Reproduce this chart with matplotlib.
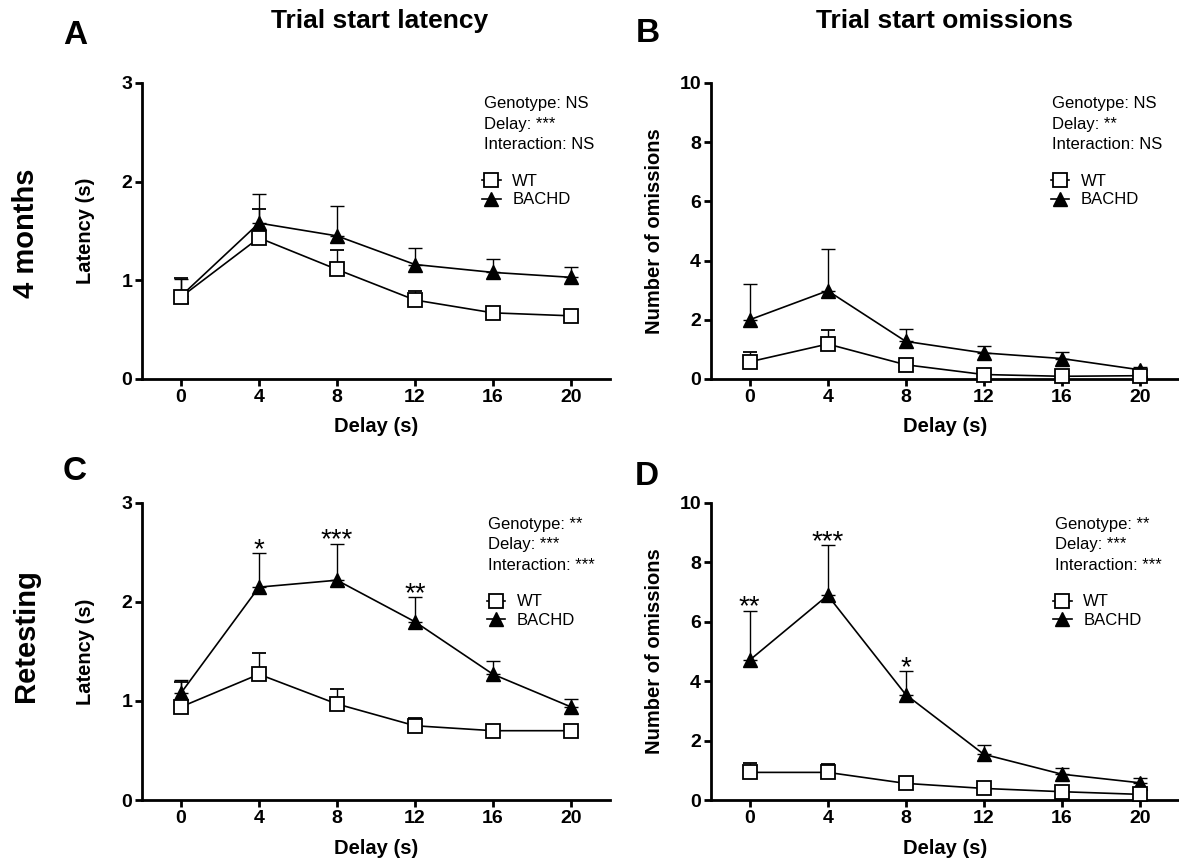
import matplotlib
matplotlib.use("Agg")
import matplotlib.pyplot as plt
from matplotlib.lines import Line2D
import numpy as np

plt.rcParams['font.family'] = ['Liberation Sans', 'DejaVu Sans']

# ---------------- data ----------------
delay = [0, 4, 8, 12, 16, 20]

# 4 months: trial start latency (s), mean and SEM
wt_lat_4m = [0.83, 1.43, 1.11, 0.80, 0.67, 0.64]
wt_lat_4m_sem = [0.19, 0.29, 0.20, 0.09, 0.03, 0.03]
bachd_lat_4m = [0.84, 1.58, 1.45, 1.16, 1.08, 1.03]
bachd_lat_4m_sem = [0.17, 0.29, 0.30, 0.17, 0.14, 0.10]

# 4 months: trial start omissions
wt_om_4m = [0.58, 1.18, 0.48, 0.15, 0.09, 0.11]
wt_om_4m_sem = [0.32, 0.48, 0.15, 0.08, 0.05, 0.05]
bachd_om_4m = [2.00, 2.98, 1.27, 0.88, 0.69, 0.31]
bachd_om_4m_sem = [1.21, 1.42, 0.42, 0.24, 0.21, 0.08]

# Retesting: trial start latency (s)
wt_lat_rt = [0.94, 1.27, 0.97, 0.75, 0.70, 0.70]
wt_lat_rt_sem = [0.25, 0.215, 0.15, 0.08, 0.03, 0.03]
bachd_lat_rt = [1.08, 2.15, 2.22, 1.80, 1.27, 0.94]
bachd_lat_rt_sem = [0.13, 0.34, 0.37, 0.25, 0.13, 0.08]

# Retesting: trial start omissions
wt_om_rt = [0.93, 0.93, 0.56, 0.39, 0.28, 0.19]
wt_om_rt_sem = [0.33, 0.29, 0.10, 0.08, 0.06, 0.05]
bachd_om_rt = [4.71, 6.89, 3.55, 1.54, 0.87, 0.58]
bachd_om_rt_sem = [1.67, 1.70, 0.79, 0.31, 0.21, 0.15]

# post-hoc significance marks (delay -> stars)
stars_lat_rt = {4: '*', 8: '***', 12: '**'}
stars_om_rt = {0: '**', 4: '***', 8: '*'}

stats_lat_4m = ['Genotype: NS', 'Delay: ***', 'Interaction: NS']
stats_om_4m = ['Genotype: NS', 'Delay: **', 'Interaction: NS']
stats_lat_rt = ['Genotype: **', 'Delay: ***', 'Interaction: ***']
stats_om_rt = ['Genotype: **', 'Delay: ***', 'Interaction: ***']

col_titles = ['Trial start latency', 'Trial start omissions']
row_titles = ['4 months', 'Retesting']
panel_letters = ['A', 'B', 'C', 'D']
group_labels = ['WT', 'BACHD']

# ---------------- figure ----------------
W, H = 1179, 866
fig = plt.figure(figsize=(W / 100, H / 100), dpi=100)


def fx(px):
    return px / W


def fy(py):
    return 1 - py / H


AX_W = 0.397
ax_a = fig.add_axes([0.1204, 0.5624, AX_W, 0.3418])
ax_b = fig.add_axes([0.6028, 0.5624, AX_W, 0.3418])
ax_c = fig.add_axes([0.1204, 0.0762, AX_W, 0.3430])
ax_d = fig.add_axes([0.6028, 0.0762, AX_W, 0.3430])


def draw_panel(ax, wt, wt_sem, bd, bd_sem, ymax, yticks, ylabel, stats,
               stars=None, text_x=0.73):
    x = np.array(delay)
    wt = np.array(wt)
    bd = np.array(bd)
    # BACHD: filled triangles, upward error bars only
    ax.errorbar(x, bd, yerr=[np.zeros_like(bd), np.array(bd_sem)],
                color='black', lw=1.2, elinewidth=1.0, capsize=5, capthick=1.0,
                marker='^', ms=10.5, mfc='black', mec='black', zorder=3,
                clip_on=False)
    # WT: open squares
    ax.errorbar(x, wt, yerr=[np.zeros_like(wt), np.array(wt_sem)],
                color='black', lw=1.2, elinewidth=1.0, capsize=5, capthick=1.0,
                marker='s', ms=10, mfc='white', mec='black', mew=1.3,
                zorder=4, clip_on=False)

    ax.set_xlim(-2, 22)
    ax.set_ylim(0, ymax)
    ax.set_xticks(delay)
    ax.set_yticks(yticks)
    for s in ('top', 'right'):
        ax.spines[s].set_visible(False)
    for s in ('left', 'bottom'):
        ax.spines[s].set_linewidth(2.0)
    ax.tick_params(direction='out', length=5, width=2.0, pad=2,
                   labelsize=14)
    for lab in ax.get_xticklabels() + ax.get_yticklabels():
        lab.set_fontweight('bold')
    ax.set_xlabel('Delay (s)', fontsize=14.5, fontweight='bold')
    ax.set_ylabel(ylabel, fontsize=14.5, fontweight='bold')
    ax.xaxis.set_label_coords(0.5, -0.13)
    ax.yaxis.set_label_coords(-0.10, 0.5)

    for i, line in enumerate(stats):
        ax.text(text_x, 0.929 - i * 0.069, line, transform=ax.transAxes,
                fontsize=12, va='center', ha='left')

    handles = [
        Line2D([], [], color='black', lw=1.2, marker='s', ms=10,
               mfc='white', mec='black', mew=1.3),
        Line2D([], [], color='black', lw=1.2, marker='^', ms=10.5,
               mfc='black', mec='black'),
    ]
    ax.legend(handles, group_labels, loc='upper left',
              bbox_to_anchor=(text_x - 0.003, 0.692), frameon=False,
              fontsize=12, handlelength=1.1, handletextpad=0.7,
              labelspacing=0.2, borderpad=0, borderaxespad=0)

    if stars:
        for xv, s in stars.items():
            i = delay.index(xv)
            top = bd[i] + bd_sem[i]
            ax.annotate(s, (xv, top), xytext=(0, -2.8),
                        textcoords='offset points',
                        ha='center', va='baseline', fontsize=20)


draw_panel(ax_a, wt_lat_4m, wt_lat_4m_sem, bachd_lat_4m, bachd_lat_4m_sem,
           3, [0, 1, 2, 3], 'Latency (s)', stats_lat_4m)
draw_panel(ax_b, wt_om_4m, wt_om_4m_sem, bachd_om_4m, bachd_om_4m_sem,
           10, [0, 2, 4, 6, 8, 10], 'Number of omissions', stats_om_4m)
draw_panel(ax_c, wt_lat_rt, wt_lat_rt_sem, bachd_lat_rt, bachd_lat_rt_sem,
           3, [0, 1, 2, 3], 'Latency (s)', stats_lat_rt, stars_lat_rt,
           text_x=0.74)
draw_panel(ax_d, wt_om_rt, wt_om_rt_sem, bachd_om_rt, bachd_om_rt_sem,
           10, [0, 2, 4, 6, 8, 10], 'Number of omissions', stats_om_rt,
           stars_om_rt, text_x=0.735)

# column titles
fig.text(fx(380), fy(21), col_titles[0], ha='center', va='center',
         fontsize=19, fontweight='bold')
fig.text(fx(945), fy(21), col_titles[1], ha='center', va='center',
         fontsize=19, fontweight='bold')

# row titles
fig.text(fx(26), fy(233), row_titles[0], ha='center', va='center',
         rotation=90, fontsize=21, fontweight='bold')
fig.text(fx(26), fy(636), row_titles[1], ha='center', va='center',
         rotation=90, fontsize=21, fontweight='bold')

# panel letters
for letter, (px, py) in zip(panel_letters,
                            [(75, 36), (648, 34), (75, 471), (647, 477)]):
    fig.text(fx(px), fy(py), letter, ha='center', va='center',
             fontsize=24, fontweight='bold')

fig.savefig('out.png', dpi=100)
